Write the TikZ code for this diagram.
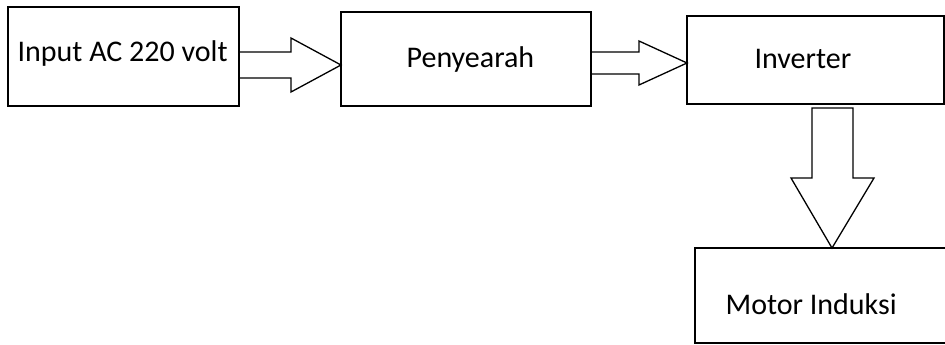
\documentclass[tikz,border=0pt]{standalone}
\usepackage{fontspec}
\setmainfont{Carlito}
\usetikzlibrary{calc}

\begin{document}
\begin{tikzpicture}[x = 1pt, y = -1pt, line width = 1.3pt, line join = miter,
    block/.style = {draw, rectangle, inner sep = 0pt, outer sep = 0pt, anchor = north west},
    caption/.style = {anchor = base west, inner sep = 0pt, font = \fontsize{30}{35}\selectfont}]
        \useasboundingbox (0,0) rectangle (945,345);

        % draws the blocks
        \foreach \name/\x/\y/\w/\h in {inp/8/7/231/99, rect/341/12/250/94,
                                       inv/687/16/257/88, mot/695/248/320/95}
          \node[block, minimum width = \w pt, minimum height = \h pt] (\name) at (\x,\y) {};

        % draws the texts
        \node[caption] (inptext) at (17,62) {Input AC 220 volt};
        \node[caption] (recttext) at (406,67) {Penyearah};
        \node[caption] (invtext) at (754,69) {Inverter};
        \node[caption] (mottext) at (725,314) {Motor Induksi};

        % draws the arrows between the blocks
        \foreach \a/\b/\m/\s/\h/\l in {inp/rect/65/13/27/50, rect/inv/63/11/22/48}
          \draw (\b.west |- 0,\m) -- ++(-\l,-\h) -- ++(0,\h-\s)
            -- (\a.east |- 0,\m-\s) -- (\a.east |- 0,\m+\s)
            -- ($(\b.west |- 0,\m+\s) + (-\l,0)$) -- ++(0,\h-\s) -- cycle;

        \draw ($(mot.north west) + (137,0)$) -- ++(-41,-70) -- ++(21,0) -- ++(0,-70)
          -- ++(41,0) -- ++(0,70) -- ++(21,0) -- cycle;
      \end{tikzpicture}
\end{document}
